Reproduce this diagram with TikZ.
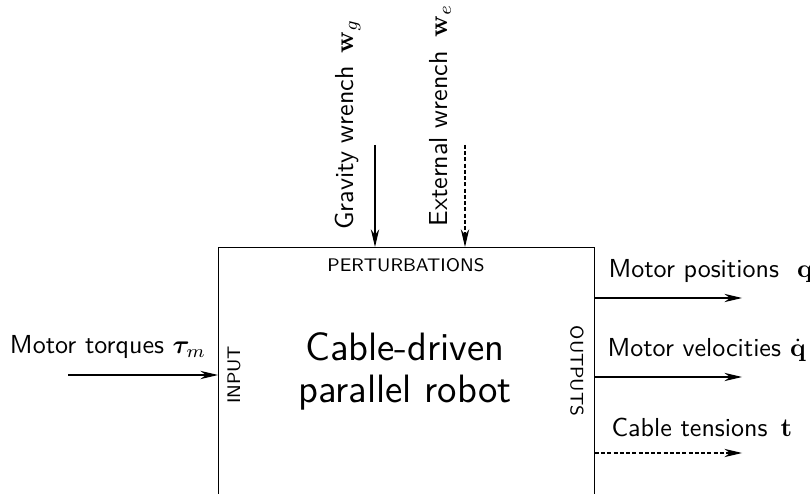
\documentclass[tikz,border=0pt]{standalone}
\usepackage{amsmath}
\usepackage{amssymb}
\usepackage{bm}
\usetikzlibrary{arrows.meta,positioning}
\newcommand{\wg}{\mathbf{w}_g}
\newcommand{\we}{\mathbf{w}_e}

\begin{document}
\begin{tikzpicture}[x=0.0135cm,y=-0.0135cm,
		>={Stealth[length=6.8pt,width=3.2pt,inset=2.2pt]},
		font=\sffamily,
		sysbox/.style={draw,inner sep=0pt,minimum width=5.076cm,minimum height=3.8cm},
		tagnode/.style={font=\sffamily\scriptsize,inner sep=1pt},
		flownode/.style={inner sep=0pt},
		perturbnode/.style={inner sep=0pt,rotate=90,anchor=base west},
		titlenode/.style={align=center,inner sep=0pt,font=\sffamily\fontsize{15.2}{16.5}\selectfont},
		dashflow/.style={dash pattern=on 1.5pt off 0.9pt}]

		\clip (0,0) rectangle (810,494);

		% the system block (its bottom is cut by the page)
		\node[sysbox,anchor=north west] (robot) at (218,247) {};
		\node[titlenode,anchor=base] (title) at (405,403) {Cable-driven\\parallel robot};
		\node[tagnode,anchor=north] (pert) at (406,255) {PERTURBATIONS};
		\node[tagnode,rotate=90] (inp) at (234,375) {INPUT};
		\node[tagnode,rotate=-90] (outp) at (577,371) {OUTPUTS};

		% input
		\coordinate (tauin) at (68,375);
		\node[flownode,anchor=base] (taulbl) at (108,354) {Motor torques $\bm{\tau}_m$};
		\draw[->] (tauin) to (tauin -| robot.west);

		% perturbations
		\coordinate (gin) at (375,145);
		\coordinate (ein) at (465,145);
		\node[perturbnode] (glbl) at (353,230) {Gravity wrench\hspace{0.5em}$\wg$};
		\node[perturbnode] (elbl) at (447,227) {External wrench\hspace{0.55em}$\we$};
		\draw[->] (gin) to (gin |- robot.north);
		\draw[->,dashflow] (ein) to (ein |- robot.north);

		% outputs
		\coordinate (qout) at (742,298);
		\coordinate (dqout) at (742,377);
		\coordinate (tout) at (742,453);
		\node[flownode,anchor=base west] (qlbl) at (608,278) {Motor positions\hspace{0.7em}$\mathbf{q}$};
		\node[flownode,anchor=base west] (dqlbl) at (607,357) {Motor velocities\hspace{0.35em}$\dot{\mathbf{q}}$};
		\node[flownode,anchor=base west] (tlbl) at (611,437) {Cable tensions\hspace{0.5em}$\mathbf{t}$};
		\draw[->] (qout -| robot.east) to (qout);
		\draw[->] (dqout -| robot.east) to (dqout);
		\draw[->,dashflow] (tout -| robot.east) to (tout);

	\end{tikzpicture}
\end{document}
